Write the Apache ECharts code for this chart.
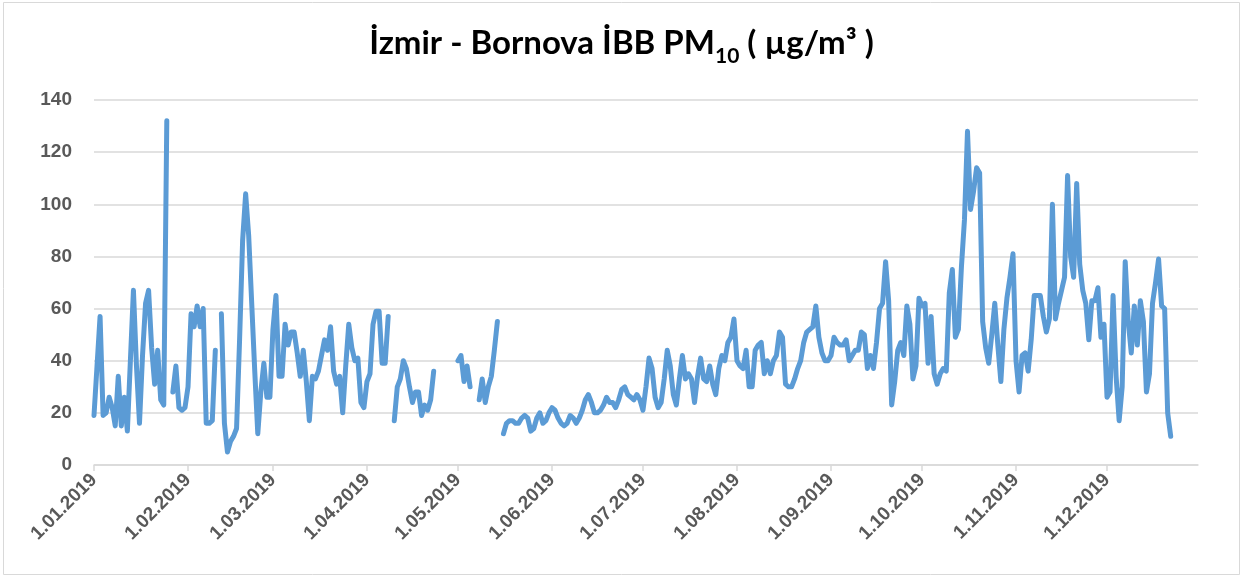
<!DOCTYPE html>
<html>
<head>
<meta charset="utf-8">
<script src="https://cdn.jsdelivr.net/npm/echarts@6/dist/echarts.min.js"></script>
<style>
html,body{margin:0;padding:0;background:#fff;}
#c{width:1243px;height:578px;}
</style>
</head>
<body>
<div id="c"></div>
<script>
// Daily categories for 2019
const year = 2019;
const dayCount = 365;
const categories = [];
for (let i = 0; i < dayCount; i++) {
  const d = new Date(Date.UTC(year, 0, 1 + i));
  categories.push(d.getUTCDate() + '.' + String(d.getUTCMonth() + 1).padStart(2, '0') + '.' + year);
}

// Tick labels (first day of each month)
const tickLabels = ['1.01.2019','1.02.2019','1.03.2019','1.04.2019','1.05.2019','1.06.2019',
  '1.07.2019','1.08.2019','1.09.2019','1.10.2019','1.11.2019','1.12.2019'];

// Y axis ticks
const yTicks = [0, 20, 40, 60, 80, 100, 120, 140];

// PM10 daily values (µg/m³), null = no data
const pm10Jan = [19,38,57,19,20,26,22,15,34,15,26,13,40,67,38,16,42,62,67,45,31,44,25,23,132,null,28,38,22,21,22];
const pm10Feb = [30,58,53,61,53,60,16,16,17,44,null,58,16,5,9,11,14,48,86,104,88,62,36,12,28,39,26,26];
const pm10Mar = [52,65,34,34,54,46,51,51,43,34,44,32,17,34,33,36,42,48,44,53,36,31,34,20,38,54,45,40,41,24,22];
const pm10Apr = [32,35,54,59,59,39,39,57,null,17,30,33,40,37,30,24,28,28,19,23,21,25,36,null,null,null,null,null,null,null];
const pm10May = [40,42,32,38,30,null,null,25,33,24,30,34,44,55,null,12,16,17,17,16,16,18,19,18,13,14,18,20,16,17,20];
const pm10Jun = [22,21,18,16,15,16,19,18,16,18,21,25,27,24,20,20,21,23,26,24,24,22,25,29,30,27,26,25,27,25];
const pm10Jul = [21,30,41,37,26,22,24,33,44,38,27,23,33,42,33,35,33,24,34,41,33,32,38,31,27,37,42,40,47,49,56];
const pm10Aug = [40,38,37,44,30,30,44,46,47,35,40,35,40,42,51,49,31,30,30,33,37,40,47,51,52,53,61,49,43,40,40];
const pm10Sep = [42,49,47,46,46,48,40,42,44,44,51,50,37,42,37,47,60,62,78,63,23,32,44,47,42,61,54,33,38,64];
const pm10Oct = [61,62,39,57,35,31,35,37,36,66,75,49,52,76,94,128,98,105,114,112,55,45,39,50,62,46,32,52,64,72,81];
const pm10Nov = [40,28,42,43,36,48,65,65,65,57,51,56,100,56,62,67,72,111,80,72,108,77,67,62,48,63,63,68,49,54];
const pm10Dec = [26,28,65,34,17,30,78,55,43,61,46,63,55,28,35,62,70,79,61,60,20,11,null,null,null,null,null,null,null,null,null];

const pm10 = [].concat(pm10Jan, pm10Feb, pm10Mar, pm10Apr, pm10May, pm10Jun,
  pm10Jul, pm10Aug, pm10Sep, pm10Oct, pm10Nov, pm10Dec);

const labelFont = 'Liberation Sans';
const chart = echarts.init(document.getElementById('c'), null, {renderer: 'canvas'});
const isMonthStart = (idx, val) => tickLabels.indexOf(val) >= 0;

chart.setOption({
  animation: false,
  backgroundColor: '#ffffff',
  title: {
    left: 'center',
    top: 22,
    text: '{a|İzmir - Bornova İBB PM}{s|10}{a| ( µg/m³ )}',
    textStyle: {
      rich: {
        a: {fontFamily: 'Lato', fontWeight: 'bold', fontSize: 33, color: '#000000', lineHeight: 36, verticalAlign: 'top'},
        s: {fontFamily: 'Lato', fontWeight: 'bold', fontSize: 21, color: '#000000', lineHeight: 58, verticalAlign: 'middle'}
      }
    }
  },
  graphic: [{
    type: 'rect',
    shape: {x: 3.5, y: 2.5, width: 1236, height: 572},
    style: {fill: 'none', stroke: '#D9D9D9', lineWidth: 1},
    silent: true
  }],
  grid: {left: 94, right: 45, top: 100, bottom: 113, containLabel: false},
  xAxis: {
    type: 'category',
    data: categories,
    boundaryGap: false,
    axisLine: {show: true, lineStyle: {color: '#D9D9D9', width: 1.5}},
    axisTick: {show: true, interval: isMonthStart, length: 6, lineStyle: {color: '#D9D9D9', width: 1.5}},
    axisLabel: {
      interval: isMonthStart,
      rotate: 45,
      margin: 12,
      color: '#595959',
      fontWeight: 'bold',
      fontSize: 19,
      fontFamily: labelFont
    },
    splitLine: {show: false}
  },
  yAxis: {
    type: 'value',
    min: yTicks[0],
    max: yTicks[yTicks.length - 1],
    interval: yTicks[1] - yTicks[0],
    axisLine: {show: false},
    axisTick: {show: false},
    axisLabel: {color: '#595959', fontWeight: 'bold', fontSize: 19, fontFamily: labelFont, margin: 22},
    splitLine: {show: true, lineStyle: {color: '#D9D9D9', width: 1.5}}
  },
  series: [{
    type: 'line',
    data: pm10,
    showSymbol: false,
    symbol: 'none',
    connectNulls: false,
    lineStyle: {color: '#5B9BD5', width: 5, cap: 'round', join: 'round'},
    itemStyle: {color: '#5B9BD5'}
  }]
});
</script>
</body>
</html>
